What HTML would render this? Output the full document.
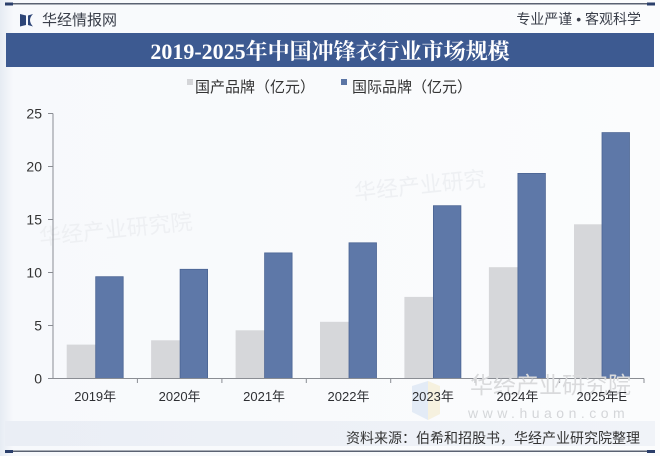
<!DOCTYPE html>
<html><head><meta charset="utf-8"><style>
html,body{margin:0;padding:0;background:#fbfcfd;}
svg{display:block;}
text{font-family:"Liberation Sans","Noto Sans CJK SC",sans-serif;}
</style></head><body>
<svg width="660" height="456" viewBox="0 0 660 456" xmlns="http://www.w3.org/2000/svg">
<defs>
<linearGradient id="lg" x1="0" x2="1" y1="0" y2="0">
<stop offset="0" stop-color="#e6ebf3"/><stop offset="0.02" stop-color="#f7f9fc"/><stop offset="1" stop-color="#fbfcfd"/>
</linearGradient>
<linearGradient id="fb" x1="0" x2="1" y1="0" y2="0">
<stop offset="0" stop-color="#eaeef5"/><stop offset="1" stop-color="#f0f3f8"/>
</linearGradient>
</defs>
<rect x="0" y="0" width="660" height="456" fill="url(#lg)"/>
<!-- top line -->
<rect x="5" y="3" width="650" height="1.5" fill="#5a6272"/>
<rect x="5" y="2.5" width="8" height="3" fill="#2b3f6b"/>
<rect x="647" y="2.5" width="8" height="3" fill="#2b3f6b"/>
<!-- logo -->
<path d="M20 14 L26 15.5 L26 25 L20 26.5 Z" fill="#2d4577"/>
<path d="M33 14 Q27 20 33 26.5 L28 25 L28 15.5 Z" fill="#2d4577"/>
<text x="42" y="25" font-size="15" fill="#3a3f4a">华经情报网</text>
<text x="641" y="24" font-size="14" fill="#3a3f4a" text-anchor="end">专业严谨 • 客观科学</text>
<!-- banner -->
<rect x="6" y="33" width="648" height="34" fill="#3d5a91"/>
<text x="330" y="59" font-size="22" font-weight="bold" fill="#ffffff" text-anchor="middle" style="font-family:'Liberation Serif','Noto Serif CJK SC',serif;">2019-2025年中国冲锋衣行业市场规模</text>
<!-- legend -->
<rect x="187" y="79" width="6" height="6" fill="#d4d5d8"/>
<text x="195" y="92" font-size="15" fill="#333">国产品牌（亿元）</text>
<rect x="341" y="79" width="6" height="6" fill="#5b75a5"/>
<text x="352" y="92" font-size="15" fill="#333">国际品牌（亿元）</text>
<!-- faint watermarks in chart -->
<text x="40" y="245" font-size="22" fill="#eef0f3" transform="rotate(-6 40 245)">华经产业研究院</text>
<text x="355" y="200" font-size="22" fill="#eef0f3" transform="rotate(-6 355 200)">华经产业研究</text>
<!-- y axis -->
<g stroke="#8a8d93" stroke-width="1">
<line x1="53" y1="113.5" x2="53" y2="378.5"/>
<line x1="48" y1="113.5" x2="53" y2="113.5"/>
<line x1="48" y1="166.5" x2="53" y2="166.5"/>
<line x1="48" y1="219.5" x2="53" y2="219.5"/>
<line x1="48" y1="272.5" x2="53" y2="272.5"/>
<line x1="48" y1="325.5" x2="53" y2="325.5"/>
<line x1="48" y1="378.5" x2="53" y2="378.5"/>
</g>
<g font-size="14" fill="#333" text-anchor="end">
<text x="42" y="118.5">25</text>
<text x="42" y="171.5">20</text>
<text x="42" y="224.5">15</text>
<text x="42" y="277.5">10</text>
<text x="42" y="330.5">5</text>
<text x="42" y="383.5">0</text>
</g>
<!-- bars -->
<g fill="#d6d7da">
<rect x="66.7" y="344.6" width="29" height="33.9"/>
<rect x="151.1" y="340.3" width="29" height="38.2"/>
<rect x="235.6" y="330.3" width="29" height="48.2"/>
<rect x="320" y="321.8" width="29" height="56.7"/>
<rect x="404.4" y="296.9" width="29" height="81.6"/>
<rect x="488.9" y="267.2" width="29" height="111.3"/>
<rect x="574" y="224.3" width="28" height="154.2"/>
</g>
<g fill="#5e78a8" stroke="#4b6493" stroke-width="0.8">
<rect x="95.7" y="276.7" width="27.5" height="101.8"/>
<rect x="180.1" y="269.3" width="27.5" height="109.2"/>
<rect x="264.6" y="252.9" width="27.5" height="125.6"/>
<rect x="349" y="242.8" width="27.5" height="135.7"/>
<rect x="433.4" y="205.7" width="27.5" height="172.8"/>
<rect x="517.9" y="173.4" width="27.5" height="205.1"/>
<rect x="602" y="132.6" width="27.5" height="245.9"/>
</g>
<!-- x axis -->
<g stroke="#8a8d93" stroke-width="1">
<line x1="53" y1="378.5" x2="644" y2="378.5"/>
<line x1="137.4" y1="378.5" x2="137.4" y2="383"/>
<line x1="221.9" y1="378.5" x2="221.9" y2="383"/>
<line x1="306.3" y1="378.5" x2="306.3" y2="383"/>
<line x1="390.7" y1="378.5" x2="390.7" y2="383"/>
<line x1="475.2" y1="378.5" x2="475.2" y2="383"/>
<line x1="559.6" y1="378.5" x2="559.6" y2="383"/>
<line x1="644" y1="378.5" x2="644" y2="383"/>
</g>
<!-- watermark bottom -->
<path d="M412 386 L428 381 L428 420 L412 412 Z" fill="#e3ebf6"/>
<path d="M428 381 L440 386 L440 414 L428 420 Z" fill="#f6f1df"/>
<text x="470" y="393" font-size="23" fill="#d9dadc">华经产业研究院</text>
<text x="468" y="418" font-size="14" fill="#d4d6d9" letter-spacing="4.5">www.huaon.com</text>
<g font-size="13" fill="#2e2f33" text-anchor="middle">
<text x="95.2" y="401">2019年</text>
<text x="179.6" y="401">2020年</text>
<text x="264.1" y="401">2021年</text>
<text x="348.5" y="401">2022年</text>
<text x="432.9" y="401">2023年</text>
<text x="517.4" y="401">2024年</text>
<text x="601.8" y="401">2025年E</text>
</g>
<!-- footer -->
<rect x="5" y="421" width="650" height="25" fill="url(#fb)"/>
<text x="640" y="443" font-size="14" fill="#333" text-anchor="end">资料来源：伯希和招股书，华经产业研究院整理</text>
<rect x="5" y="450.5" width="650" height="1.5" fill="#5a6272"/>
<rect x="5" y="450" width="8" height="3" fill="#2b3f6b"/>
<rect x="647" y="450" width="8" height="3" fill="#2b3f6b"/>
</svg>
</body></html>
